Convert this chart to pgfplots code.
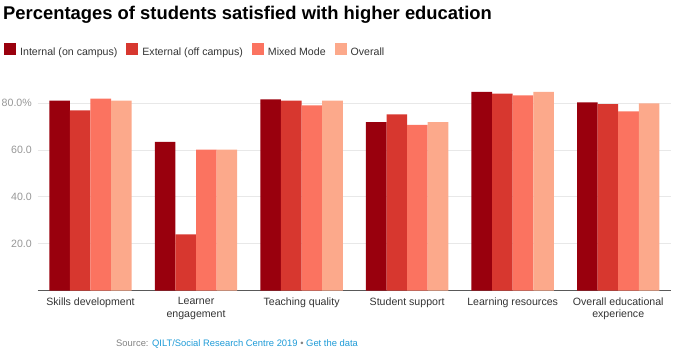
\documentclass[border=0pt]{standalone}
\usepackage{fontspec}
\setmainfont{Liberation Sans}
\usepackage{pgfplots}
\pgfplotsset{compat=1.18}
\definecolor{cA}{RGB}{153,0,13}
\definecolor{cB}{RGB}{215,55,47}
\definecolor{cC}{RGB}{251,115,96}
\definecolor{cD}{RGB}{252,169,139}
\definecolor{txt}{RGB}{51,51,51}
\definecolor{ytxt}{RGB}{150,150,150}
\definecolor{grid}{RGB}{232,232,232}
\definecolor{srcgray}{RGB}{130,130,130}
\definecolor{srcblue}{RGB}{30,155,215}
\begin{document}
\begin{tikzpicture}
\useasboundingbox (0,0) rectangle (680bp,361bp);
\node[anchor=base west, inner sep=0pt, font=\fontsize{18.4bp}{21bp}\selectfont\bfseries] at (3bp,341bp) {Percentages of students satisfied with higher education};
\node[anchor=west, inner sep=0pt, font=\fontsize{9.4bp}{11bp}\selectfont] at (116bp,17bp) {\textcolor{srcgray}{Source:} \textcolor{srcblue}{QILT/Social Research Centre 2019} \textcolor{srcgray}{•} \textcolor{srcblue}{Get the data}};
\begin{axis}[
  at={(37.7bp,70.3bp)}, anchor=south west,
  scale only axis, width=633.3bp, height=206.4bp,
  ybar=0pt, bar width=20.6bp,
  xmin=-0.5, xmax=5.5, ymin=0, ymax=88,
  axis x line*=bottom, axis y line*=left,
  x axis line style={draw=black!65, line width=0.8bp},
  y axis line style={draw=none},
  xtick={0,1,2,3,4,5},
  xticklabels={Skills development, Learner\\engagement, Teaching quality, Student support, Learning resources, Overall educational\\experience},
  xticklabel style={font=\fontsize{10.6bp}{12.4bp}\selectfont, text=txt, align=center, inner sep=0pt, anchor=north, yshift=-6.5bp},
  major tick length=0pt,
  ytick={20,40,60,80},
  yticklabels={20.0,40.0,60.0,80.0\%},
  ymajorgrids, major grid style={draw=grid, line width=0.9bp},
  yticklabel style={font=\fontsize{10.6bp}{12bp}\selectfont, text=ytxt, anchor=east, inner sep=0pt, xshift=-5.7bp},
  legend columns=4,
  legend style={at={(-0.0532,1.166)}, anchor=west, draw=none, fill=none, inner sep=0pt,
    font=\fontsize{10.6bp}{12bp}\selectfont, text=txt,
    nodes={inner sep=0pt},
    /tikz/every odd column/.append style={column sep=4bp},
    /tikz/every even column/.append style={column sep=9bp}},
  legend image code/.code={\fill[#1] (0bp,-2.2bp) rectangle (12bp,9.8bp);},
]
\addplot[fill=cA, draw=none] coordinates {(0,81.0) (1,63.5) (2,81.6) (3,71.9) (4,84.8) (5,80.3)};
\addplot[fill=cB, draw=none] coordinates {(0,76.9) (1,24.0) (2,81.0) (3,75.2) (4,84.0) (5,79.5)};
\addplot[fill=cC, draw=none] coordinates {(0,81.9) (1,60.1) (2,79.0) (3,70.7) (4,83.3) (5,76.5)};
\addplot[fill=cD, draw=none] coordinates {(0,81.0) (1,60.1) (2,81.0) (3,71.9) (4,84.8) (5,79.9)};
\legend{Internal (on campus), External (off campus), Mixed Mode, Overall}
\end{axis}
\end{tikzpicture}
\end{document}
